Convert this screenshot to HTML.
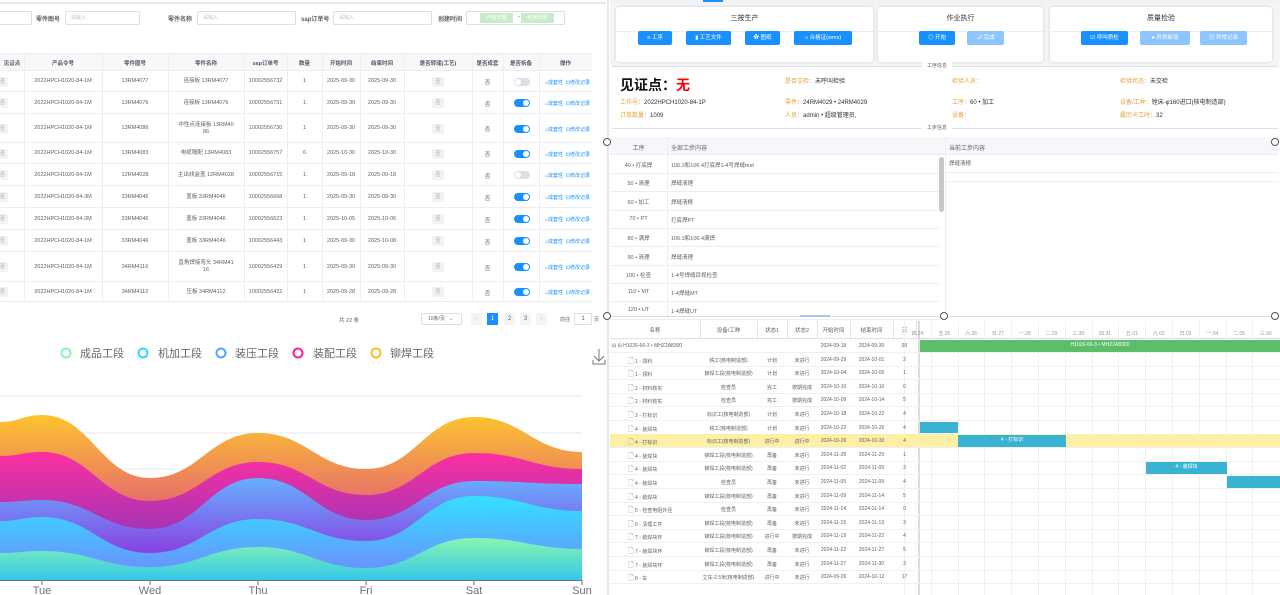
<!DOCTYPE html>
<html><head><meta charset="utf-8">
<style>
*{box-sizing:border-box;margin:0;padding:0}
body{width:1280px;height:595px;overflow:hidden;background:#fff;font-family:"Liberation Sans","Noto Sans CJK SC",sans-serif;color:#606266;position:relative;font-size:6px}
.a{position:absolute;white-space:nowrap}
.c{text-align:center}
.inp{position:absolute;border:1px solid #dcdfe6;border-radius:2px;height:14px;background:#fff;color:#c0c4cc;font-size:5px;line-height:12px;padding-left:5px}
.lbl{position:absolute;font-size:6px;color:#606266;font-weight:bold}
.btn{position:absolute;height:14px;background:#1890ff;color:#fff;border-radius:2px;font-size:5.5px;line-height:14px;text-align:center}
.btn.l{background:#8cc5ff}
.card{position:absolute;top:7px;height:55px;background:#fff;border-radius:3px;box-shadow:0 0 3px rgba(0,0,0,.15)}
.card .t{position:absolute;top:6px;left:0;right:0;text-align:center;font-size:7px;color:#303133}
.card .s{position:absolute;top:24px;left:0;right:0;border-top:1px solid #ebeef5}
.or{color:#e6a23c}
.k{color:#303133}
</style></head><body>

<!-- LEFT TOP -->
<div class="a" style="left:0;top:2px;width:606px;border-top:2px solid #e4e7ed"></div>
<div class="inp" style="left:-2px;top:11px;width:34px"></div>
<div class="lbl" style="left:36px;top:14px">零件图号</div>
<div class="inp" style="left:65px;top:11px;width:75px">请输入</div>
<div class="lbl" style="left:168px;top:14px">零件名称</div>
<div class="inp" style="left:197px;top:11px;width:99px">请输入</div>
<div class="lbl" style="left:301px;top:14px">sap订单号</div>
<div class="inp" style="left:333px;top:11px;width:99px">请输入</div>
<div class="lbl" style="left:438px;top:14px">创建时间</div>
<div class="inp" style="left:466px;top:11px;width:99px"></div>
<div class="a" style="left:480px;top:13px;width:33px;height:10px;background:#c8ecc8;color:#fff;font-size:5px;line-height:10px;text-align:center">开始日期</div>
<div class="a" style="left:518px;top:14px;font-size:6px">-</div>
<div class="a" style="left:521px;top:13px;width:33px;height:10px;background:#c8ecc8;color:#fff;font-size:5px;line-height:10px;text-align:center">结束日期</div>
<div id="lt"></div>

<!-- pagination -->
<div class="a" style="left:339px;top:316px;font-size:5.5px">共 22 条</div>
<div class="a" style="left:421px;top:313px;width:41px;height:12px;border:1px solid #dcdfe6;border-radius:2px;font-size:5px;line-height:10px;padding-left:6px">10条/页 &nbsp;&nbsp;⌄</div>
<div class="a c" style="left:471px;top:313px;width:11px;height:12px;background:#f4f4f5;color:#c0c4cc;line-height:12px">‹</div>
<div class="a c" style="left:487px;top:313px;width:11px;height:12px;background:#1890ff;color:#fff;line-height:12px">1</div>
<div class="a c" style="left:504px;top:313px;width:11px;height:12px;background:#f4f4f5;line-height:12px">2</div>
<div class="a c" style="left:520px;top:313px;width:11px;height:12px;background:#f4f4f5;line-height:12px">3</div>
<div class="a c" style="left:536px;top:313px;width:11px;height:12px;background:#f4f4f5;color:#c0c4cc;line-height:12px">›</div>
<div class="a" style="left:560px;top:316px;font-size:5px">前往</div>
<div class="a c" style="left:574px;top:313px;width:18px;height:12px;border:1px solid #dcdfe6;line-height:10px">1</div>
<div class="a" style="left:594px;top:316px;font-size:5px">页</div>

<!-- CHART -->
<svg class="a" style="left:0;top:330px" width="610" height="265" viewBox="0 330 610 265">
<defs>
<linearGradient id="g1" gradientUnits="userSpaceOnUse" x1="0" y1="415" x2="0" y2="500"><stop offset="0" stop-color="#fdc52e"/><stop offset="1" stop-color="#e7706a"/></linearGradient>
<linearGradient id="g2" gradientUnits="userSpaceOnUse" x1="0" y1="452" x2="0" y2="530"><stop offset="0" stop-color="#fd2fa0"/><stop offset="1" stop-color="#a634b4"/></linearGradient>
<linearGradient id="g3" gradientUnits="userSpaceOnUse" x1="0" y1="478" x2="0" y2="555"><stop offset="0" stop-color="#66b0ff"/><stop offset="1" stop-color="#8a3ee0"/></linearGradient>
<linearGradient id="g4" gradientUnits="userSpaceOnUse" x1="0" y1="496" x2="0" y2="570"><stop offset="0" stop-color="#33e0ff"/><stop offset="1" stop-color="#6a92ff"/></linearGradient>
<linearGradient id="g5" gradientUnits="userSpaceOnUse" x1="0" y1="538" x2="0" y2="580"><stop offset="0" stop-color="#88f5b0"/><stop offset="1" stop-color="#34c8e8"/></linearGradient>
</defs>
<line x1="0" y1="396" x2="582" y2="396" stroke="#e6e9f0" stroke-width="1"/>
<line x1="0" y1="433" x2="582" y2="433" stroke="#e6e9f0" stroke-width="1"/>
<line x1="0" y1="469" x2="582" y2="469" stroke="#e6e9f0" stroke-width="1"/>
<g id="areas"></g>
<line x1="0" y1="580.5" x2="582" y2="580.5" stroke="#6e7079"/>
<g stroke="#6e7079"><line x1="42" y1="580" x2="42" y2="585"/><line x1="150" y1="580" x2="150" y2="585"/><line x1="258" y1="580" x2="258" y2="585"/><line x1="366" y1="580" x2="366" y2="585"/><line x1="474" y1="580" x2="474" y2="585"/><line x1="582" y1="580" x2="582" y2="585"/></g>
<g font-size="11" fill="#6e7079" text-anchor="middle" font-family="Liberation Sans, sans-serif"><text x="42" y="594">Tue</text><text x="150" y="594">Wed</text><text x="258" y="594">Thu</text><text x="366" y="594">Fri</text><text x="474" y="594">Sat</text><text x="582" y="594">Sun</text></g>
<g fill="none" stroke-width="2"><circle cx="66" cy="353" r="4.5" stroke="#88f5b0"/><circle cx="143" cy="353" r="4.5" stroke="#2ed8ff"/><circle cx="221" cy="353" r="4.5" stroke="#50a6ff"/><circle cx="298" cy="353" r="4.5" stroke="#ff1c9c"/><circle cx="376" cy="353" r="4.5" stroke="#ffbf1f"/></g>
<g font-size="11" fill="#666" font-family="Liberation Sans, Noto Sans CJK SC, sans-serif"><text x="80" y="357">成品工段</text><text x="158" y="357">机加工段</text><text x="235" y="357">装压工段</text><text x="313" y="357">装配工段</text><text x="390" y="357">铆焊工段</text></g>
<g stroke="#777" fill="none" stroke-width="1"><path d="M599 349v12M594 356l5 5 5-5M593 360v4h12v-4"/></g>
</svg>

<!-- divider -->
<div class="a" style="left:607px;top:0;width:2px;height:595px;background:#e8e8e8"></div>

<!-- RIGHT TOP -->
<div class="a" style="left:610px;top:0;width:670px;height:4px;background:#f0f2f5"></div>
<div class="a" style="left:703px;top:0;width:20px;height:2px;background:#1890ff"></div>
<div class="a" style="left:610px;top:4px;width:670px;height:62px;background:#f4f5f7"></div>
<div class="card" style="left:616px;width:257px"><div class="t">三按生产</div><div class="s"></div></div>
<div class="card" style="left:878px;width:165px"><div class="t">作业执行</div><div class="s"></div></div>
<div class="card" style="left:1050px;width:222px"><div class="t">质量检验</div><div class="s"></div></div>
<div class="btn" style="left:638px;top:31px;width:34px">≡ 工序</div>
<div class="btn" style="left:686px;top:31px;width:45px">▮ 工艺文件</div>
<div class="btn" style="left:745px;top:31px;width:35px">✿ 图纸</div>
<div class="btn" style="left:794px;top:31px;width:58px">⌂ 合格证(wms)</div>
<div class="btn" style="left:919px;top:31px;width:36px">◎ 开始</div>
<div class="btn l" style="left:967px;top:31px;width:37px">⊿ 完成</div>
<div class="btn" style="left:1081px;top:31px;width:47px">☑ 呼叫质检</div>
<div class="btn l" style="left:1140px;top:31px;width:50px">● 异常新增</div>
<div class="btn l" style="left:1200px;top:31px;width:47px">▤ 异常记录</div>

<div class="a" style="left:612px;top:66px;width:666px;border-top:1px solid #dcdfe6"></div>
<div class="a" style="left:922px;top:62px;background:#fff;padding:0 5px;font-size:5px">工序信息</div>
<div class="a" style="left:620px;top:75px;font-size:14px;font-weight:bold;color:#111">见证点：<span style="color:#f00">无</span></div>
<div class="a" style="left:785px;top:76px;font-size:6px"><span class="or">是否交检：</span><span class="k">未呼叫检验</span></div>
<div class="a" style="left:952px;top:76px;font-size:6px"><span class="or">检验人员：</span></div>
<div class="a" style="left:1120px;top:76px;font-size:6px"><span class="or">检验状态：</span><span class="k">未交检</span></div>
<div class="a" style="left:620px;top:97px;font-size:6px"><span class="or">工作号：</span><span class="k">2022HPCH1020-84-1P</span></div>
<div class="a" style="left:785px;top:97px;font-size:6px"><span class="or">零件：</span><span class="k">24RM4029 • 24RM4029</span></div>
<div class="a" style="left:952px;top:97px;font-size:6px"><span class="or">工序：</span><span class="k">60 • 加工</span></div>
<div class="a" style="left:1120px;top:97px;font-size:6px"><span class="or">设备/工种：</span><span class="k">镗床-φ160进口(核电制造部)</span></div>
<div class="a" style="left:620px;top:110px;font-size:6px"><span class="or">订单数量：</span><span class="k">1009</span></div>
<div class="a" style="left:785px;top:110px;font-size:6px"><span class="or">人员：</span><span class="k">admin • 超级管理员,</span></div>
<div class="a" style="left:952px;top:110px;font-size:6px"><span class="or">设备：</span></div>
<div class="a" style="left:1120px;top:110px;font-size:6px"><span class="or">履历卡工时：</span><span class="k">32</span></div>
<div class="a" style="left:612px;top:128px;width:666px;border-top:1px solid #dcdfe6"></div>
<div class="a" style="left:922px;top:124px;background:#fff;padding:0 5px;font-size:5px">工步信息</div>

<div class="a" style="left:610px;top:137px;width:668px;height:18px;background:#f5f7fa;border-bottom:1px solid #ebeef5"></div>
<div class="a c" style="left:610px;top:143px;width:57px">工序</div>
<div class="a" style="left:671px;top:143px">全部工步内容</div>
<div class="a" style="left:949px;top:143px">当前工步内容</div>
<div class="a" style="left:667px;top:137px;height:181px;border-left:1px solid #ebeef5"></div>
<div class="a" style="left:945px;top:137px;height:181px;border-left:1px solid #ebeef5"></div>
<div class="a" style="left:939px;top:157px;width:5px;height:55px;background:#c8c8c8;border-radius:3px"></div>
<div class="a" style="left:946px;top:155px;width:332px;height:18px;border-bottom:1px solid #ebeef5;line-height:18px;padding-left:3px;font-size:5.5px">焊缝清根</div>
<div class="a" style="left:946px;top:173px;width:332px;height:9px;border-bottom:1px solid #ebeef5"></div>
<div id="st"></div>
<div class="a" style="left:610px;top:316px;width:670px;border-top:1px solid #ddd"></div>
<div class="a" style="left:800px;top:315px;width:30px;height:2px;background:#a8c8f0"></div>
<div class="a" style="left:603px;top:138px;width:8px;height:8px;border:1px solid #555;border-radius:50%;background:#fff"></div>
<div class="a" style="left:1271px;top:138px;width:8px;height:8px;border:1px solid #555;border-radius:50%;background:#fff"></div>
<div class="a" style="left:603px;top:312px;width:8px;height:8px;border:1px solid #555;border-radius:50%;background:#fff"></div>
<div class="a" style="left:940px;top:312px;width:8px;height:8px;border:1px solid #555;border-radius:50%;background:#fff"></div>
<div class="a" style="left:1271px;top:312px;width:8px;height:8px;border:1px solid #555;border-radius:50%;background:#fff"></div>

<!-- GANTT -->
<div id="gt"></div>

<script>
function d(h){document.body.insertAdjacentHTML('beforeend',h)}
// left table
var cb=[0,24,102,168,244,287,322,360,404,472,503,539,592];
var hd=['见证点','产品令号','零件图号','零件名称','sap订单号','数量','开始时间','结束时间','是否转储(工艺)','是否成套','是否拆备','操作'];
d('<div class="a" style="left:0;top:53px;width:592px;height:18px;background:#f8f8f9;border-top:1px solid #ebeef5;border-bottom:1px solid #ebeef5"></div>');
for(var i=0;i<12;i++)d('<div class="a c" style="left:'+cb[i]+'px;width:'+(cb[i+1]-cb[i])+'px;top:59px;font-size:5.5px;color:#515a6e;font-weight:bold">'+hd[i]+'</div>');
var R=[['-1M','13RM4077','连接板 13RM4077','10002556732','1','2025-09-30','2025-09-30',0],
['-1M','13RM4076','连接板 13RM4076','10002556731','1','2025-09-30','2025-09-30',1],
['-1M','13RM4086','中性点连接板 13RM40<br>86','10002556730','1','2025-09-30','2025-09-30',1],
['-1M','13RM4083','电缆隔配 13RM4083','10002556757','6','2025-10-30','2025-10-30',1],
['-1M','12RM4028','主出线盒盖 12RM4028','10002556715','1','2025-09-18','2025-09-18',0],
['-3M','33RM4046','盖板 33RM4046','10002556668','1','2025-09-30','2025-09-30',1],
['-2M','33RM4046','盖板 33RM4046','10002556623','1','2025-10-05','2025-10-06',1],
['-1M','33RM4046','盖板 33RM4046','10002556443','1','2025-09-30','2025-10-08',1],
['-1M','34RM4116','直角焊接弯头 34RM41<br>16','10002556429','1','2025-09-30','2025-09-30',1],
['-1M','34RM4112','压板 34RM4112','10002556422','1','2025-09-28','2025-09-28',1]];
var hs=[21,22,29,21,22,22,22,22,30,20],y=71;
R.forEach(function(r,k){var h=hs[k],cy=y+h/2;
d('<div class="a" style="left:0;top:'+(y+h-1)+'px;width:592px;border-top:1px solid #ebeef5"></div>');
var cells=['','2022HPCH1020-84'+r[0],r[1],r[2],r[3],r[4],r[5],r[6]];
for(var i=1;i<8;i++){var two=cells[i].indexOf('<br>')>0;d('<div class="a c" style="left:'+cb[i]+'px;width:'+(cb[i+1]-cb[i])+'px;top:'+(cy-(two?7:3.5))+'px;font-size:5.5px;line-height:7px;white-space:normal">'+cells[i]+'</div>');}
d('<div class="a c" style="left:-3px;top:'+(cy-5)+'px;width:11px;height:10px;background:#f2f2f2;border-radius:2px;line-height:10px;font-size:5px;color:#aaa">否</div>');
d('<div class="a c" style="left:432px;top:'+(cy-5)+'px;width:12px;height:10px;background:#f2f2f2;border-radius:2px;line-height:10px;font-size:5px;color:#aaa">否</div>');
d('<div class="a c" style="left:'+cb[9]+'px;width:31px;top:'+(cy-3.5)+'px;font-size:5.5px">否</div>');
var on=r[7];d('<div class="a" style="left:514px;top:'+(cy-4)+'px;width:16px;height:8px;border-radius:4px;background:'+(on?'#1890ff':'#dcdfe6')+'"><div class="a" style="top:1px;left:'+(on?9:1)+'px;width:6px;height:6px;border-radius:50%;background:#fff"></div></div>');
d('<div class="a" style="left:545px;top:'+(cy-3)+'px;font-size:5px;color:#1890ff">⌂成套性 &nbsp;⊡修改记录</div>');
y+=h;});
for(var i=1;i<12;i++)d('<div class="a" style="left:'+cb[i]+'px;top:53px;height:'+(y-53)+'px;border-left:1px solid #ebeef5"></div>');
// step table
var S=[['40 • 打底焊','106.3和106.4打底焊1-4号焊缝test'],['50 • 清理','焊缝清理'],['60 • 加工','焊缝清根'],['70 • PT','打底焊PT'],['80 • 满焊','106.3和106.4满焊'],['90 • 清理','焊缝清理'],['100 • 检查','1-4号焊缝目视检查'],['110 • MT','1-4焊缝MT'],['120 • UT','1-4焊缝UT']];
S.forEach(function(s,k){var t=155+k*18.3;d('<div class="a c" style="left:610px;width:57px;top:'+(t+6)+'px;font-size:5.5px">'+s[0]+'</div><div class="a" style="left:671px;top:'+(t+6)+'px;font-size:5.5px">'+s[1]+'</div><div class="a" style="left:610px;top:'+(t+18)+'px;width:329px;border-top:1px solid #ebeef5"></div>');});
// gantt
var gb=[610,700,757,787,817,850,893,916];var gh=['名称','设备/工种','状态1','状态2','开始时间','结束时间','天'];
d('<div class="a" style="left:610px;top:321px;width:670px;height:18px;border-bottom:1px solid #e0e0e0"></div>');
for(var i=0;i<7;i++)d('<div class="a c" style="left:'+gb[i]+'px;width:'+(gb[i+1]-gb[i])+'px;top:326px;font-size:5.5px">'+gh[i]+'</div>');
for(var i=1;i<8;i++)d('<div class="a" style="left:'+gb[i]+'px;top:321px;height:18px;border-left:1px solid #e4e4e4"></div>');
d('<div class="a" style="left:918px;top:321px;height:274px;border-left:2px solid #ddd"></div>');
var wd=['四','五','六','日','一','二','三','四','五','六','日','一','二','三'],dn=['24','25','26','27','28','29','30','31','01','02','03','04','05','06'];
for(var j=0;j<14;j++){var x=904+j*26.8;d('<div class="a" style="left:'+x+'px;top:321px;height:274px;border-left:1px solid #f0f0f0"></div><div class="a c" style="left:'+x+'px;width:27px;top:330px;font-size:5px;color:#999">'+wd[j]+'.'+dn[j]+'</div>');}
var G=[['⊟ ⊟ H1026-66-3 • MHZ2A8300','','','','2024-09-18','2024-09-30','93'],
['1 - 领料','铣工(核电制造部)','计划','未进行','2024-09-29','2024-10-01','2'],
['1 - 领料','铆焊工段(核电制造部)','计划','未进行','2024-10-04','2024-10-05','1'],
['2 - 材料核实','检查员','完工','按期完成','2024-10-10','2024-10-10','0'],
['2 - 材料核实','检查员','完工','按期完成','2024-10-09','2024-10-14','5'],
['3 - 打标识','标识工(核电制造部)','计划','未进行','2024-10-18','2024-10-22','4'],
['4 - 装焊块','铣工(核电制造部)','计划','未进行','2024-10-22','2024-10-26','4'],
['4 - 打标识','标识工(核电制造部)','进行中','进行中','2024-10-26','2024-10-30','4'],
['4 - 装焊块','铆焊工段(核电制造部)','再备','未进行','2024-11-28','2024-11-29','1'],
['4 - 装焊块','铆焊工段(核电制造部)','再备','未进行','2024-11-02','2024-11-05','3'],
['4 - 装焊块','检查员','再备','未进行','2024-11-05','2024-11-09','4'],
['4 - 装焊块','铆焊工段(核电制造部)','再备','未进行','2024-11-09','2024-11-14','5'],
['5 - 检查电阻外径','检查员','再备','未进行','2024-11-14','2024-11-14','0'],
['6 - 清理工件','铆焊工段(核电制造部)','再备','未进行','2024-11-15','2024-11-19','3'],
['7 - 装焊块环','铆焊工段(核电制造部)','进行中','按期完成','2024-11-19','2024-11-22','4'],
['7 - 装焊块环','铆焊工段(核电制造部)','再备','未进行','2024-11-22','2024-11-27','5'],
['7 - 装焊块环','铆焊工段(核电制造部)','再备','未进行','2024-11-27','2024-11-30','3'],
['8 - 车','立车-2.5米(核电制造部)','进行中','未进行','2024-09-26','2024-10-12','17']];
G.forEach(function(g,k){var t=339+k*13.6;
if(k==7)d('<div class="a" style="left:610px;top:'+t+'px;width:670px;height:13.6px;background:#fdf0a6"></div>');
d('<div class="a" style="left:610px;top:'+(t+13)+'px;width:670px;border-top:1px solid #f0f0f0"></div>');
d('<div class="a" style="left:'+(k?628:612)+'px;top:'+(t+4)+'px;font-size:5px">'+(k?'<span style="font-size:7px;color:#888">🗋</span> ':'')+g[0]+'</div>');
for(var i=1;i<7;i++)d('<div class="a c" style="left:'+gb[i]+'px;width:'+(gb[i+1]-gb[i])+'px;top:'+(t+4)+'px;font-size:5px">'+g[i]+'</div>');});
function bar(x1,x2,k,c,txt){var t=339+k*13.6+1;d('<div class="a c" style="left:'+x1+'px;top:'+t+'px;width:'+(x2-x1)+'px;height:11.5px;background:'+c+';color:#fff;font-size:5px;line-height:11.5px">'+txt+'</div>');}
bar(920,1280,0,'#5cbd6a','H1026-66-3 • MHZ2A8300');
bar(920,958,6,'#3ab3d3','');
bar(958,1066,7,'#3ab3d3','4 - 打标识');
bar(1146,1227,9,'#3ab3d3','4 - 装焊块');
bar(1227,1280,10,'#3ab3d3','');
// stream
var X=[0,42,150,258,366,474,582];
var L=[[422,415,478,433,469,417,452],[456,452,501,462,495,453,469],[502,500,529,478,520,481,484],[521,517,553,519,541,496,511],[553,551,567,547,568,538,549]];
var cols=['g1','g2','g3','g4','g5'];
function path(a){var p='M0 '+a[0];for(var i=1;i<X.length;i++){var dx=(X[i]-X[i-1])*0.45;p+=' C'+(X[i-1]+dx)+' '+a[i-1]+' '+(X[i]-dx)+' '+a[i]+' '+X[i]+' '+a[i];}return p;}
var s='';L.forEach(function(a,k){s+='<path d="'+path(a)+' L582 580 L0 580Z" fill="url(#'+cols[k]+')"/>';});
document.getElementById('areas').innerHTML=s;
</script>
</body></html>
